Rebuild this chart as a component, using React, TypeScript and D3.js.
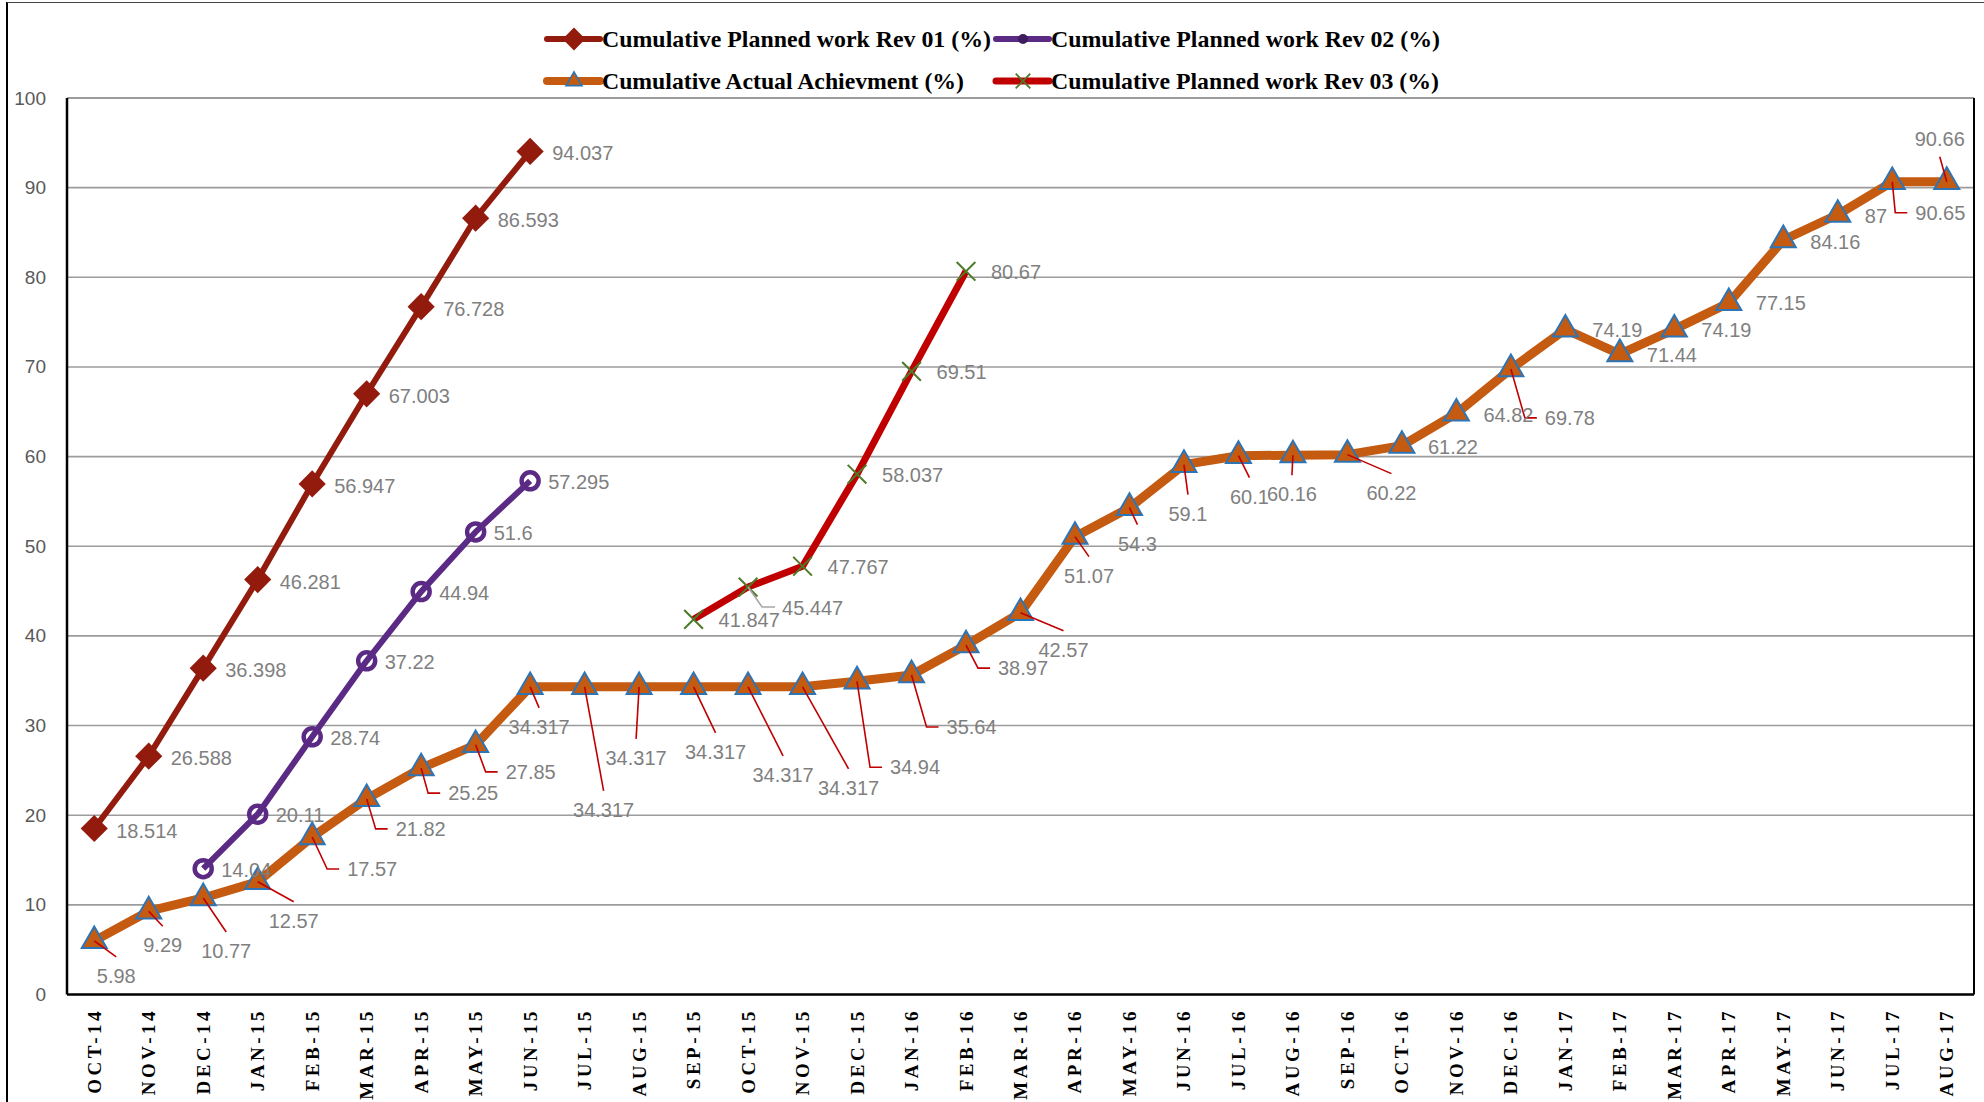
import React from 'react'
import * as d3 from 'd3'

const months = [
  'OCT-14', 'NOV-14', 'DEC-14',
  'JAN-15', 'FEB-15', 'MAR-15', 'APR-15', 'MAY-15', 'JUN-15', 'JUL-15', 'AUG-15', 'SEP-15', 'OCT-15', 'NOV-15', 'DEC-15',
  'JAN-16', 'FEB-16', 'MAR-16', 'APR-16', 'MAY-16', 'JUN-16', 'JUL-16', 'AUG-16', 'SEP-16', 'OCT-16', 'NOV-16', 'DEC-16',
  'JAN-17', 'FEB-17', 'MAR-17', 'APR-17', 'MAY-17', 'JUN-17', 'JUL-17', 'AUG-17',
]

// Cumulative Planned work Rev 01 (%) from OCT-14
const rev01 = [18.514, 26.588, 36.398, 46.281, 56.947, 67.003, 76.728, 86.593, 94.037]
const rev01Start = 'OCT-14'
// Cumulative Planned work Rev 02 (%) from DEC-14
const rev02 = [14.04, 20.11, 28.74, 37.22, 44.94, 51.6, 57.295]
const rev02Start = 'DEC-14'
// Cumulative Planned work Rev 03 (%) from SEP-15
const rev03 = [41.847, 45.447, 47.767, 58.037, 69.51, 80.67]
const rev03Start = 'SEP-15'
// Cumulative Actual Achievment (%) OCT-14 .. AUG-17
const actual = [
  5.98, 9.29, 10.77, 12.57, 17.57, 21.82, 25.25, 27.85, 34.317, 34.317, 34.317, 34.317, 34.317, 34.317, 34.94,
  35.64, 38.97, 42.57, 51.07, 54.3, 59.1, 60.1, 60.16, 60.22, 61.22, 64.82, 69.78,
  74.19, 71.44, 74.19, 77.15, 84.16, 87, 90.65, 90.66,
]
const yTicks = [0, 10, 20, 30, 40, 50, 60, 70, 80, 90, 100]

const legendNames = [
  'Cumulative Planned work Rev 01 (%)',
  'Cumulative Planned work Rev 02 (%)',
  'Cumulative Actual Achievment (%)',
  'Cumulative Planned work Rev 03 (%)',
]

// hand-placed label layout for the actual series (mode, dx, dy)
// r = right with elbow leader, n = right no leader, b = below with leader, a = above with leader
const actualLabelPos: [string, number, number][] = [
  ['b', 22, 35], ['b', 14, 34], ['b', 23, 53], ['b', 36, 39], ['r', 35, 32], ['r', 29, 30], ['r', 27, 25], ['r', 30, 27],
  ['b', 9, 40], ['b', 19, 123], ['b', -3, 71], ['b', 22, 65], ['b', 35, 88], ['b', 46, 101],
  ['r', 33, 86], ['r', 35, 52], ['r', 32, 23], ['b', 43, 37], ['b', 14, 39], ['b', 8, 36], ['b', 4, 49], ['b', 11, 41], ['b', -1, 39], ['b', 44, 38],
  ['n', 26, 1], ['n', 27, 2], ['r', 34, 49], ['n', 27, 1], ['n', 27, 1], ['n', 27, 1], ['n', 27, 0], ['n', 27, 2], ['n', 27, 1], ['r', 23, 31], ['a', -7, -43],
]

const W = 1984
const H = 1102
const plot = { left: 67, right: 1974, top: 98, bottom: 994.5 }

const C_REV01 = '#921b0e'
const C_REV02 = '#5a2a84'
const C_REV03 = '#c00000'
const C_ACT = '#c55a11'
const C_TRI = '#2e75b6'
const C_X = '#4e7a28'
const C_LABEL = '#7f7f7f'
const LABEL_FONT = '"Liberation Sans", Arial, sans-serif'

type Pt = { m: string; v: number; i: number }

const toPoints = (vals: number[], start: string): Pt[] => {
  const s = months.indexOf(start)
  return vals.map((v, k) => ({ m: months[s + k], v, i: k }))
}

export default function App() {
  const x = d3.scalePoint<string>().domain(months).range([plot.left, plot.right]).padding(0.5)
  const y = d3.scaleLinear().domain([0, 100]).range([plot.bottom, plot.top])

  const line = d3
    .line<Pt>()
    .x((d) => x(d.m) as number)
    .y((d) => y(d.v))

  const p01 = toPoints(rev01, rev01Start)
  const p02 = toPoints(rev02, rev02Start)
  const p03 = toPoints(rev03, rev03Start)
  const pAct = toPoints(actual, months[0])

  const diamond = d3.symbol().type(d3.symbolSquare).size(370)()
  const triangle = d3.symbol().type(d3.symbolTriangle).size(270)()
  const cross = d3.symbol().type(d3.symbolX).size(230)()
  const triSmall = d3.symbol().type(d3.symbolTriangle).size(110)()
  const diaSmall = d3.symbol().type(d3.symbolSquare).size(260)()
  const crossSmall = d3.symbol().type(d3.symbolX).size(140)()

  const labelStyle = {
    fontFamily: LABEL_FONT,
    fontSize: 20,
    fill: C_LABEL,
  }

  const rightLabels = (pts: Pt[], dx: number, dy: number, key: string) =>
    pts.map((d, k) => (
      <text
        key={key + k}
        x={(x(d.m) as number) + dx}
        y={y(d.v) + dy}
        dominantBaseline="central"
        style={labelStyle}
      >
        {String(d.v)}
      </text>
    ))

  // legend layout
  const legendCols = [547, 996]
  const legendRows = [39, 81]
  const legendWidths = [389, 389, 362, 388]

  return (
    <div style={{ position: 'absolute', left: 0, top: 0 }}>
      <svg width={W} height={H} style={{ display: 'block', background: '#fff' }}>
        <rect x={0} y={0} width={W} height={H} fill="#fff" />
        {/* outer chart border */}
        <line x1={7} x2={7} y1={2} y2={H} stroke="#000" strokeWidth={2} />
        <line x1={7} x2={W} y1={2.5} y2={2.5} stroke="#444" strokeWidth={1} />

        {/* gridlines */}
        {yTicks.slice(1).map((t) => (
          <line
            key={'g' + t}
            x1={plot.left}
            x2={plot.right}
            y1={y(t)}
            y2={y(t)}
            stroke={t === 100 ? '#7a7a7a' : '#9c9c9c'}
            strokeWidth={1.6}
          />
        ))}

        {/* axes frame */}
        <line x1={plot.left} x2={plot.left} y1={plot.top} y2={plot.bottom} stroke="#000" strokeWidth={2.5} />
        <line x1={plot.right} x2={plot.right} y1={plot.top} y2={plot.bottom} stroke="#000" strokeWidth={2} />
        <line x1={plot.left} x2={plot.right} y1={plot.bottom} y2={plot.bottom} stroke="#000" strokeWidth={2.5} />

        {/* y tick labels */}
        {yTicks.map((t) => (
          <text
            key={'yt' + t}
            x={46}
            y={y(t)}
            textAnchor="end"
            dominantBaseline="central"
            style={{ fontFamily: LABEL_FONT, fontSize: 19, fill: '#595959' }}
          >
            {t}
          </text>
        ))}

        {/* x tick labels */}
        {months.map((m) => (
          <text
            key={'xt' + m}
            transform={`translate(${x(m)}, 1008) rotate(-90)`}
            textAnchor="end"
            dominantBaseline="central"
            style={{
              fontFamily: '"Liberation Serif", "Times New Roman", serif',
              fontWeight: 'bold',
              fontSize: 19,
              letterSpacing: 3.5,
              fill: '#000',
            }}
          >
            {m}
          </text>
        ))}

        {/* series lines */}
        <path d={line(p01) || ''} fill="none" stroke={C_REV01} strokeWidth={6} strokeLinejoin="round" />
        <path d={line(p02) || ''} fill="none" stroke={C_REV02} strokeWidth={6} strokeLinejoin="round" />
        <path d={line(pAct) || ''} fill="none" stroke={C_ACT} strokeWidth={9} strokeLinejoin="round" />
        <path d={line(p03) || ''} fill="none" stroke={C_REV03} strokeWidth={7} strokeLinejoin="round" />

        {/* markers */}
        {p01.map((d, k) => (
          <path
            key={'d' + k}
            d={diamond || ''}
            transform={`translate(${x(d.m)}, ${y(d.v)}) rotate(45)`}
            fill={C_REV01}
          />
        ))}
        {p02.map((d, k) => (
          <circle key={'c' + k} cx={x(d.m)} cy={y(d.v)} r={8.5} fill="none" stroke={C_REV02} strokeWidth={4.5} />
        ))}
        {pAct.map((d, k) => (
          <path
            key={'t' + k}
            d={triangle || ''}
            transform={`translate(${x(d.m)}, ${y(d.v)})`}
            fill={C_ACT}
            stroke={C_TRI}
            strokeWidth={2}
            strokeLinejoin="miter"
          />
        ))}
        {p03.map((d, k) => (
          <path
            key={'x' + k}
            d={cross || ''}
            transform={`translate(${x(d.m)}, ${y(d.v)})`}
            fill="none"
            stroke={C_X}
            strokeWidth={2}
          />
        ))}

        {/* leader lines for the actual series */}
        {pAct.map((d, k) => {
          const [mode, dx, dy] = actualLabelPos[k]
          const px = x(d.m) as number
          const py = y(d.v)
          if (mode === 'n') return null
          let pts: [number, number][]
          if (mode === 'r') {
            const lx = px + dx
            const cy = py + dy
            pts = [[px, py], [lx - 20, cy], [lx - 8, cy]]
          } else if (mode === 'b') {
            pts = [[px, py], [px + dx, py + dy - 19]]
          } else {
            pts = [[px, py], [px + dx, py + dy + 18]]
          }
          return (
            <path
              key={'ll' + k}
              d={d3.line()(pts) || ''}
              fill="none"
              stroke="#c00000"
              strokeWidth={1.6}
            />
          )
        })}
        {/* gray leader for Rev 03 second point */}
        {(() => {
          const d = p03[1]
          const px = x(d.m) as number
          const py = y(d.v)
          const pts: [number, number][] = [[px, py], [px + 14, py + 20], [px + 27, py + 20]]
          return <path d={d3.line()(pts) || ''} fill="none" stroke="#a6a6a6" strokeWidth={1.6} />
        })()}

        {/* data labels */}
        {rightLabels(p01, 22, 2, 'l1')}
        {rightLabels(p02, 18, 1, 'l2')}
        {p03.map((d, k) => (
          <text
            key={'l3' + k}
            x={(x(d.m) as number) + (k === 1 ? 34 : 25)}
            y={y(d.v) + (k === 1 ? 21 : 1)}
            dominantBaseline="central"
            style={labelStyle}
          >
            {String(d.v)}
          </text>
        ))}
        {pAct.map((d, k) => {
          const [mode, dx, dy] = actualLabelPos[k]
          const px = x(d.m) as number
          const py = y(d.v)
          const anchor = mode === 'r' || mode === 'n' ? 'start' : 'middle'
          return (
            <text
              key={'la' + k}
              x={px + dx}
              y={py + dy}
              textAnchor={anchor}
              dominantBaseline="central"
              style={labelStyle}
            >
              {String(d.v)}
            </text>
          )
        })}

        {/* legend */}
        {legendNames.map((name, k) => {
          const cx = legendCols[k % 2]
          const cy = legendRows[Math.floor(k / 2)]
          const color = [C_REV01, C_REV02, C_ACT, C_REV03][k]
          const sw = [6, 6, 8, 7][k]
          const mx = cx + 27
          return (
            <g key={'lg' + k}>
              <line x1={cx} x2={cx + 53} y1={cy} y2={cy} stroke={color} strokeWidth={sw} strokeLinecap="round" />
              {k === 0 && (
                <path d={diaSmall || ''} transform={`translate(${mx}, ${cy}) rotate(45)`} fill={C_REV01} />
              )}
              {k === 1 && <circle cx={mx} cy={cy} r={5} fill="#3d1d5e" />}
              {k === 2 && (
                <path
                  d={triSmall || ''}
                  transform={`translate(${mx}, ${cy})`}
                  fill={C_ACT}
                  stroke={C_TRI}
                  strokeWidth={1.6}
                />
              )}
              {k === 3 && (
                <path d={crossSmall || ''} transform={`translate(${mx}, ${cy})`} fill="none" stroke={C_X} strokeWidth={1.8} />
              )}
              <text
                x={cx + 55}
                y={cy + 8}
                textLength={legendWidths[k]}
                lengthAdjust="spacingAndGlyphs"
                style={{
                  fontFamily: '"Liberation Serif", "Times New Roman", serif',
                  fontWeight: 'bold',
                  fontSize: 24,
                  fill: '#000',
                }}
              >
                {name}
              </text>
            </g>
          )
        })}
      </svg>
    </div>
  )
}
